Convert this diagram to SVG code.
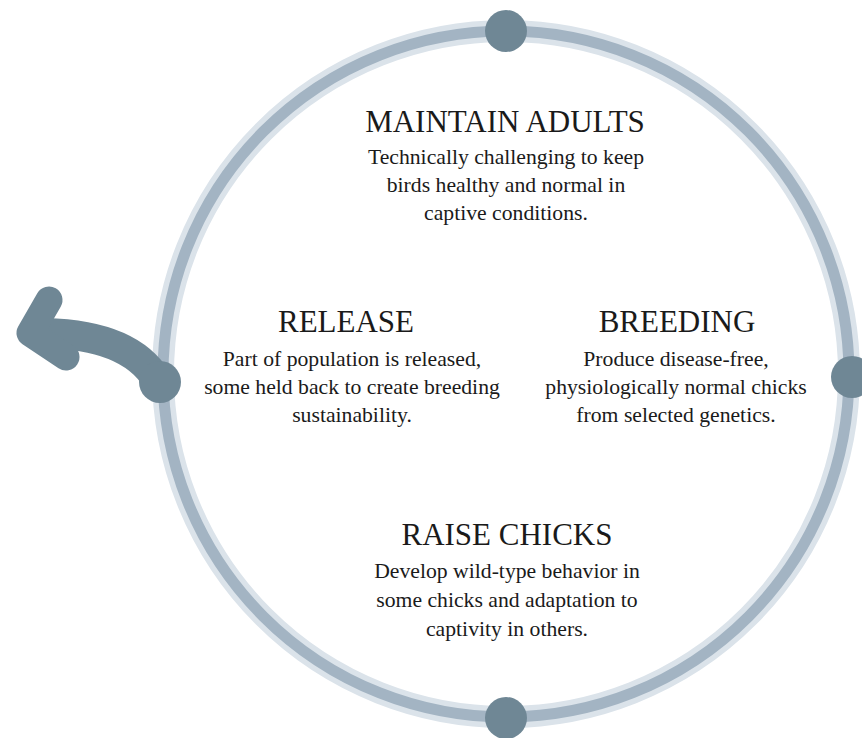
<svg xmlns="http://www.w3.org/2000/svg" width="862" height="738" viewBox="0 0 862 738">
  <style>
    .ring-halo { fill: none; stroke: #dbe3ea; stroke-width: 22; }
    .ring { fill: none; stroke: #a3b4c3; stroke-width: 11; }
    .dot { fill: #6f8795; }
    .shaft { fill: none; stroke: #6f8795; stroke-width: 30; stroke-linecap: round; }
    .head { fill: none; stroke: #6f8795; stroke-width: 27; stroke-linecap: round; stroke-linejoin: round; }
    .title { font-family: "Liberation Serif", "Times New Roman", serif; font-size: 31px; fill: #1a1a1a; text-anchor: middle; }
    .body { font-family: "Liberation Serif", "Times New Roman", serif; font-size: 21.7px; fill: #1a1a1a; text-anchor: middle; }
  </style>
  <rect width="862" height="738" fill="#ffffff"/>

  <g id="cycle">
    <circle class="ring-halo" cx="506" cy="374" r="343"/>
    <circle class="ring" cx="506" cy="374" r="343"/>
  </g>

  <g id="connectors">
    <!-- exit arrow leaving the cycle at the release point -->
    <path class="shaft" d="M157 380 Q 130 335 45 333"/>
    <polyline class="head" points="49,300 30,333 66,357"/>
  </g>

  <g id="markers">
    <circle class="dot" cx="506" cy="31" r="21"/>
    <circle class="dot" cx="852" cy="377" r="21"/>
    <circle class="dot" cx="506" cy="718" r="21"/>
    <circle class="dot" cx="160" cy="382" r="21"/>
  </g>

  <g id="maintain-adults">
    <text class="title" x="505" y="132">MAINTAIN ADULTS</text>
    <text class="body" x="506" y="164">Technically challenging to keep</text>
    <text class="body" x="506" y="192">birds healthy and normal in</text>
    <text class="body" x="506" y="220">captive conditions.</text>
  </g>

  <g id="breeding">
    <text class="title" x="677" y="332">BREEDING</text>
    <text class="body" x="676" y="366">Produce disease-free,</text>
    <text class="body" x="676" y="394">physiologically normal chicks</text>
    <text class="body" x="676" y="422">from selected genetics.</text>
  </g>

  <g id="raise-chicks">
    <text class="title" x="507" y="545">RAISE CHICKS</text>
    <text class="body" x="507" y="578">Develop wild-type behavior in</text>
    <text class="body" x="507" y="607">some chicks and adaptation to</text>
    <text class="body" x="507" y="636">captivity in others.</text>
  </g>

  <g id="release">
    <text class="title" x="346" y="332">RELEASE</text>
    <text class="body" x="352" y="366">Part of population is released,</text>
    <text class="body" x="352" y="394">some held back to create breeding</text>
    <text class="body" x="352" y="422">sustainability.</text>
  </g>
</svg>
